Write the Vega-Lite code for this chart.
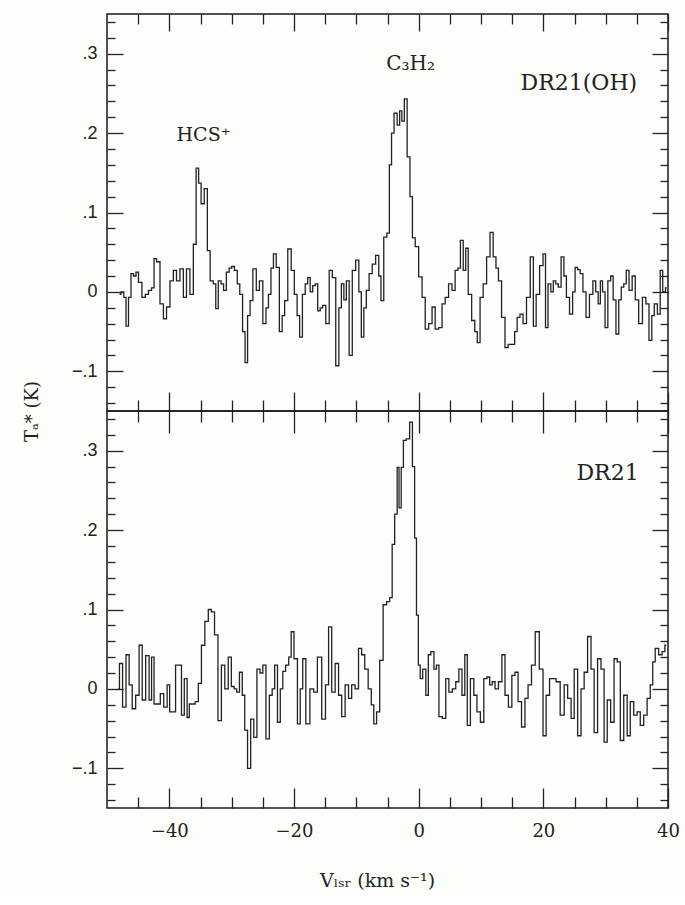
{
  "$schema": "https://vega.github.io/schema/vega-lite/v6.json",
  "background": "#fdfdfa",
  "padding": {"left": 22, "top": 12, "right": 10, "bottom": 5},
  "spacing": 0,
  "bounds": "flush",
  "config": {
    "view": {"stroke": "#1a1a1a", "strokeWidth": 1.5},
    "axis": {"grid": false, "domain": false, "labelColor": "#222", "tickColor": "#222", "tickWidth": 1.3, "titleColor": "#222", "labelFlush": false, "labelOverlap": false, "titleFontWeight": "normal"},
    "text": {"font": "DejaVu Serif", "color": "#222"}
  },
  "datasets": {
    "top": [
      {"v": -48.0, "t": -0.003}, {"v": -47.5, "t": 0.0}, {"v": -47.1, "t": -0.007}, {"v": -46.8, "t": -0.043}, {"v": -46.3, "t": -0.007},
      {"v": -46.0, "t": 0.023}, {"v": -45.5, "t": 0.02}, {"v": -45.2, "t": 0.025}, {"v": -44.7, "t": 0.012}, {"v": -44.1, "t": -0.007},
      {"v": -43.6, "t": -0.003}, {"v": -43.1, "t": 0.002}, {"v": -42.6, "t": 0.005}, {"v": -42.3, "t": 0.042}, {"v": -41.8, "t": 0.038},
      {"v": -41.2, "t": -0.015}, {"v": -40.7, "t": -0.034}, {"v": -40.2, "t": -0.019}, {"v": -39.6, "t": 0.014}, {"v": -39.1, "t": 0.027},
      {"v": -38.6, "t": 0.014}, {"v": -38.0, "t": 0.029}, {"v": -37.5, "t": -0.007}, {"v": -37.0, "t": 0.029}, {"v": -36.4, "t": -0.003},
      {"v": -35.9, "t": 0.06}, {"v": -35.5, "t": 0.156}, {"v": -35.1, "t": 0.137}, {"v": -34.7, "t": 0.111}, {"v": -34.1, "t": 0.13},
      {"v": -33.7, "t": 0.052}, {"v": -33.2, "t": 0.014}, {"v": -32.7, "t": 0.01}, {"v": -32.4, "t": -0.021}, {"v": -31.9, "t": 0.014},
      {"v": -31.5, "t": 0.01}, {"v": -31.1, "t": 0.002}, {"v": -30.6, "t": 0.025}, {"v": -30.2, "t": 0.03}, {"v": -29.8, "t": 0.032},
      {"v": -29.3, "t": 0.027}, {"v": -28.9, "t": 0.01}, {"v": -28.5, "t": -0.003}, {"v": -28.0, "t": -0.05}, {"v": -27.7, "t": -0.089},
      {"v": -27.2, "t": -0.03}, {"v": -26.9, "t": -0.011}, {"v": -26.3, "t": 0.029}, {"v": -25.8, "t": 0.002}, {"v": -25.3, "t": 0.014},
      {"v": -24.7, "t": -0.04}, {"v": -24.3, "t": -0.02}, {"v": -23.9, "t": -0.003}, {"v": -23.5, "t": 0.03}, {"v": -23.1, "t": 0.048},
      {"v": -22.6, "t": 0.031}, {"v": -22.1, "t": -0.05}, {"v": -21.7, "t": -0.03}, {"v": -21.3, "t": -0.011}, {"v": -20.7, "t": 0.054},
      {"v": -20.2, "t": 0.027}, {"v": -19.7, "t": -0.003}, {"v": -19.3, "t": -0.03}, {"v": -18.9, "t": -0.057}, {"v": -18.4, "t": -0.003},
      {"v": -18.0, "t": 0.01}, {"v": -17.6, "t": 0.018}, {"v": -17.2, "t": 0.0}, {"v": -16.8, "t": 0.008}, {"v": -16.4, "t": 0.01},
      {"v": -16.0, "t": -0.024}, {"v": -15.6, "t": -0.02}, {"v": -15.2, "t": -0.017}, {"v": -14.6, "t": -0.04}, {"v": -14.1, "t": 0.027},
      {"v": -13.6, "t": 0.018}, {"v": -13.0, "t": -0.093}, {"v": -12.6, "t": -0.02}, {"v": -12.2, "t": 0.01}, {"v": -11.8, "t": -0.01},
      {"v": -11.4, "t": 0.014}, {"v": -10.9, "t": -0.08}, {"v": -10.4, "t": 0.027}, {"v": -9.8, "t": 0.04}, {"v": -9.4, "t": 0.0},
      {"v": -9.0, "t": -0.057}, {"v": -8.6, "t": -0.02}, {"v": -8.2, "t": 0.002}, {"v": -7.7, "t": 0.023}, {"v": -7.2, "t": 0.035},
      {"v": -6.6, "t": 0.046}, {"v": -6.2, "t": 0.02}, {"v": -5.9, "t": -0.011}, {"v": -5.3, "t": 0.069}, {"v": -4.9, "t": 0.074},
      {"v": -4.5, "t": 0.16}, {"v": -4.2, "t": 0.2}, {"v": -3.7, "t": 0.225}, {"v": -3.2, "t": 0.21}, {"v": -2.9, "t": 0.228},
      {"v": -2.5, "t": 0.215}, {"v": -2.1, "t": 0.243}, {"v": -1.6, "t": 0.17}, {"v": -1.2, "t": 0.12}, {"v": -0.8, "t": 0.068},
      {"v": -0.3, "t": 0.057}, {"v": 0.3, "t": 0.019}, {"v": 0.8, "t": -0.007}, {"v": 1.3, "t": -0.047}, {"v": 1.9, "t": -0.04},
      {"v": 2.4, "t": -0.019}, {"v": 2.9, "t": -0.047}, {"v": 3.5, "t": -0.045}, {"v": 4.0, "t": -0.015}, {"v": 4.5, "t": -0.007},
      {"v": 5.1, "t": 0.01}, {"v": 5.6, "t": 0.002}, {"v": 6.1, "t": 0.027}, {"v": 6.5, "t": 0.03}, {"v": 6.9, "t": 0.065},
      {"v": 7.4, "t": 0.027}, {"v": 7.7, "t": 0.055}, {"v": 8.2, "t": -0.003}, {"v": 8.8, "t": -0.036}, {"v": 9.2, "t": -0.05},
      {"v": 9.6, "t": -0.064}, {"v": 10.1, "t": -0.007}, {"v": 10.6, "t": 0.01}, {"v": 11.2, "t": 0.044}, {"v": 11.7, "t": 0.075},
      {"v": 12.2, "t": 0.044}, {"v": 12.6, "t": 0.03}, {"v": 13.0, "t": 0.014}, {"v": 13.6, "t": -0.032}, {"v": 14.1, "t": -0.07},
      {"v": 14.6, "t": -0.066}, {"v": 15.2, "t": -0.066}, {"v": 15.6, "t": -0.05}, {"v": 16.0, "t": -0.032}, {"v": 16.5, "t": -0.028},
      {"v": 17.0, "t": -0.04}, {"v": 17.6, "t": -0.007}, {"v": 18.2, "t": 0.044}, {"v": 18.6, "t": -0.043}, {"v": 19.1, "t": -0.003},
      {"v": 19.7, "t": 0.033}, {"v": 20.2, "t": 0.048}, {"v": 20.5, "t": -0.045}, {"v": 21.0, "t": 0.01}, {"v": 21.4, "t": 0.0},
      {"v": 21.8, "t": 0.014}, {"v": 22.2, "t": 0.01}, {"v": 22.6, "t": 0.006}, {"v": 23.1, "t": 0.044}, {"v": 23.5, "t": 0.02},
      {"v": 23.9, "t": -0.007}, {"v": 24.5, "t": -0.028}, {"v": 24.9, "t": 0.0}, {"v": 25.3, "t": 0.031}, {"v": 25.7, "t": 0.028},
      {"v": 26.1, "t": 0.023}, {"v": 26.6, "t": 0.0}, {"v": 27.1, "t": -0.032}, {"v": 27.7, "t": -0.003}, {"v": 28.2, "t": 0.014},
      {"v": 28.6, "t": 0.0}, {"v": 29.0, "t": -0.015}, {"v": 29.3, "t": 0.014}, {"v": 29.7, "t": 0.0}, {"v": 30.1, "t": -0.045},
      {"v": 30.6, "t": 0.014}, {"v": 31.0, "t": 0.02}, {"v": 31.4, "t": -0.01}, {"v": 31.9, "t": -0.053}, {"v": 32.3, "t": -0.01},
      {"v": 32.7, "t": 0.006}, {"v": 33.1, "t": 0.01}, {"v": 33.5, "t": 0.027}, {"v": 34.0, "t": 0.002}, {"v": 34.5, "t": 0.02},
      {"v": 35.0, "t": -0.01}, {"v": 35.6, "t": -0.04}, {"v": 36.2, "t": -0.007}, {"v": 36.7, "t": -0.015}, {"v": 37.2, "t": -0.061},
      {"v": 37.6, "t": -0.03}, {"v": 38.0, "t": -0.015}, {"v": 38.6, "t": -0.028}, {"v": 38.9, "t": 0.027}, {"v": 39.4, "t": 0.0},
      {"v": 39.8, "t": 0.005}
    ],
    "bottom": [
      {"v": -48.2, "t": 0.0}, {"v": -47.8, "t": 0.032}, {"v": -47.2, "t": -0.023}, {"v": -46.7, "t": 0.043}, {"v": -46.2, "t": 0.005},
      {"v": -45.7, "t": -0.025}, {"v": -45.1, "t": -0.008}, {"v": -44.6, "t": 0.055}, {"v": -44.1, "t": -0.014}, {"v": -43.5, "t": 0.042},
      {"v": -43.0, "t": -0.014}, {"v": -42.7, "t": 0.04}, {"v": -42.2, "t": -0.019}, {"v": -41.7, "t": -0.019}, {"v": -41.2, "t": -0.006},
      {"v": -40.6, "t": -0.023}, {"v": -40.1, "t": 0.005}, {"v": -39.8, "t": -0.029}, {"v": -39.3, "t": -0.029}, {"v": -38.7, "t": 0.03},
      {"v": -38.2, "t": 0.03}, {"v": -37.9, "t": -0.033}, {"v": -37.3, "t": 0.013}, {"v": -37.0, "t": -0.036}, {"v": -36.6, "t": -0.019},
      {"v": -36.1, "t": -0.019}, {"v": -35.6, "t": -0.016}, {"v": -35.1, "t": 0.007}, {"v": -34.6, "t": 0.055}, {"v": -34.0, "t": 0.085},
      {"v": -33.5, "t": 0.1}, {"v": -33.0, "t": 0.097}, {"v": -32.5, "t": 0.068}, {"v": -31.9, "t": -0.04}, {"v": -31.4, "t": 0.03},
      {"v": -30.8, "t": 0.0}, {"v": -30.3, "t": 0.04}, {"v": -29.8, "t": 0.003}, {"v": -29.4, "t": 0.0}, {"v": -29.0, "t": -0.004},
      {"v": -28.5, "t": 0.021}, {"v": -28.1, "t": -0.008}, {"v": -27.7, "t": -0.052}, {"v": -27.2, "t": -0.1}, {"v": -26.7, "t": -0.038},
      {"v": -26.2, "t": -0.061}, {"v": -25.7, "t": 0.025}, {"v": -25.2, "t": 0.02}, {"v": -24.8, "t": 0.03}, {"v": -24.2, "t": -0.063},
      {"v": -23.7, "t": -0.008}, {"v": -23.3, "t": 0.0}, {"v": -22.9, "t": 0.03}, {"v": -22.4, "t": -0.042}, {"v": -22.0, "t": 0.0},
      {"v": -21.6, "t": 0.022}, {"v": -21.1, "t": 0.03}, {"v": -20.6, "t": 0.04}, {"v": -20.3, "t": 0.072}, {"v": -19.7, "t": 0.038},
      {"v": -19.2, "t": -0.044}, {"v": -18.8, "t": 0.0}, {"v": -18.4, "t": 0.038}, {"v": -17.8, "t": -0.044}, {"v": -17.1, "t": 0.0},
      {"v": -16.6, "t": -0.004}, {"v": -15.9, "t": 0.04}, {"v": -15.2, "t": -0.038}, {"v": -14.7, "t": 0.005}, {"v": -14.2, "t": 0.078},
      {"v": -13.7, "t": -0.004}, {"v": -13.1, "t": 0.032}, {"v": -12.6, "t": -0.008}, {"v": -12.1, "t": -0.035}, {"v": -11.5, "t": 0.005},
      {"v": -11.0, "t": -0.012}, {"v": -10.5, "t": 0.005}, {"v": -9.9, "t": 0.0}, {"v": -9.4, "t": 0.051}, {"v": -8.9, "t": 0.043},
      {"v": -8.4, "t": 0.025}, {"v": -7.8, "t": 0.0}, {"v": -7.4, "t": -0.02}, {"v": -7.0, "t": -0.044}, {"v": -6.5, "t": -0.029},
      {"v": -6.0, "t": 0.036}, {"v": -5.4, "t": 0.106}, {"v": -4.9, "t": 0.11}, {"v": -4.4, "t": 0.115}, {"v": -4.1, "t": 0.182},
      {"v": -3.6, "t": 0.22}, {"v": -3.3, "t": 0.279}, {"v": -3.0, "t": 0.228}, {"v": -2.6, "t": 0.279}, {"v": -2.3, "t": 0.313},
      {"v": -1.7, "t": 0.315}, {"v": -1.2, "t": 0.336}, {"v": -0.8, "t": 0.28}, {"v": -0.5, "t": 0.19}, {"v": -0.2, "t": 0.093},
      {"v": 0.1, "t": 0.03}, {"v": 0.4, "t": 0.013}, {"v": 0.9, "t": 0.025}, {"v": 1.4, "t": -0.008}, {"v": 1.7, "t": 0.043},
      {"v": 2.2, "t": 0.047}, {"v": 2.7, "t": 0.025}, {"v": 3.0, "t": 0.03}, {"v": 3.5, "t": -0.035}, {"v": 4.1, "t": -0.037},
      {"v": 4.6, "t": 0.013}, {"v": 5.1, "t": -0.004}, {"v": 5.7, "t": 0.0}, {"v": 6.2, "t": 0.009}, {"v": 6.7, "t": 0.025},
      {"v": 7.2, "t": -0.008}, {"v": 7.6, "t": 0.043}, {"v": 8.0, "t": -0.046}, {"v": 8.6, "t": 0.013}, {"v": 9.1, "t": -0.008},
      {"v": 9.6, "t": -0.029}, {"v": 10.2, "t": -0.042}, {"v": 10.7, "t": 0.013}, {"v": 11.2, "t": 0.015}, {"v": 11.6, "t": 0.005},
      {"v": 12.0, "t": 0.009}, {"v": 12.5, "t": 0.0}, {"v": 13.1, "t": 0.009}, {"v": 13.6, "t": 0.043}, {"v": 14.1, "t": -0.008},
      {"v": 14.7, "t": -0.023}, {"v": 15.2, "t": 0.017}, {"v": 15.7, "t": 0.021}, {"v": 16.2, "t": -0.016}, {"v": 16.8, "t": -0.048},
      {"v": 17.3, "t": -0.012}, {"v": 17.8, "t": 0.005}, {"v": 18.4, "t": 0.03}, {"v": 19.0, "t": 0.072}, {"v": 19.7, "t": 0.025},
      {"v": 20.2, "t": -0.059}, {"v": 20.7, "t": -0.008}, {"v": 21.3, "t": 0.013}, {"v": 21.8, "t": 0.013}, {"v": 22.3, "t": 0.009},
      {"v": 23.1, "t": -0.033}, {"v": 23.6, "t": 0.005}, {"v": 24.2, "t": -0.012}, {"v": 24.7, "t": -0.037}, {"v": 25.2, "t": 0.025},
      {"v": 25.8, "t": -0.059}, {"v": 26.3, "t": 0.0}, {"v": 26.8, "t": 0.021}, {"v": 27.4, "t": 0.066}, {"v": 27.9, "t": 0.025},
      {"v": 28.4, "t": -0.055}, {"v": 29.0, "t": 0.038}, {"v": 29.5, "t": 0.025}, {"v": 30.0, "t": -0.067}, {"v": 30.5, "t": -0.014},
      {"v": 31.1, "t": -0.042}, {"v": 31.6, "t": 0.038}, {"v": 32.1, "t": 0.034}, {"v": 32.6, "t": -0.065}, {"v": 33.2, "t": -0.008},
      {"v": 33.7, "t": -0.059}, {"v": 34.2, "t": -0.016}, {"v": 34.8, "t": -0.033}, {"v": 35.3, "t": -0.029}, {"v": 35.8, "t": -0.046},
      {"v": 36.4, "t": -0.033}, {"v": 36.9, "t": -0.012}, {"v": 37.4, "t": 0.005}, {"v": 37.7, "t": 0.034}, {"v": 38.2, "t": 0.051},
      {"v": 38.8, "t": 0.043}, {"v": 39.3, "t": 0.047}, {"v": 39.7, "t": 0.055}
    ],
    "topLabels": [
      {"v": -34.5, "t": 0.19, "label": "HCS⁺", "size": 19},
      {"v": -1.3, "t": 0.28, "label": "C₃H₂", "size": 20},
      {"v": 25.7, "t": 0.254, "label": "DR21(OH)", "size": 22}
    ],
    "bottomLabels": [
      {"v": 30.3, "t": 0.263, "label": "DR21", "size": 22}
    ]
  },
  "vconcat": [
    {
      "width": 561, "height": 397,
      "resolve": {"axis": {"x": "independent", "y": "independent"}},
      "layer": [
        {
          "data": {"name": "top"},
          "mark": {"type": "line", "interpolate": "step", "color": "#222", "strokeWidth": 1.3},
          "encoding": {
            "x": {"field": "v", "type": "quantitative", "scale": {"domain": [-50, 40], "nice": false, "zero": false},
              "axis": {"orient": "bottom", "values": [-40, -20, 0, 20, 40], "ticks": false, "labels": false, "title": null}},
            "y": {"field": "t", "type": "quantitative", "scale": {"domain": [-0.15, 0.35], "nice": false, "zero": false},
              "axis": {"orient": "left", "values": [-0.1, 0, 0.1, 0.2, 0.3], "ticks": false, "labelFont": "Liberation Sans", "labelFontSize": 18, "labelPadding": 10,
                "labelExpr": "datum.value == 0 ? '0' : replace(format(datum.value, '.1f'), '0.', '.')",
                "title": "Tₐ* (K)", "titleFont": "DejaVu Serif", "titleFontSize": 18, "titleX": -66, "titleY": 397, "titleAngle": -90, "titleAlign": "center", "titleBaseline": "bottom"}}
          }
        },
        {
          "data": {"name": "top"},
          "mark": {"type": "line", "strokeOpacity": 0},
          "encoding": {
            "x": {"field": "v", "type": "quantitative", "scale": {"domain": [-50, 40], "nice": false, "zero": false},
              "axis": {"orient": "bottom", "values": [-40, -20, 0, 20, 40], "tickSize": -19, "labels": false, "title": null}},
            "y": {"field": "t", "type": "quantitative", "scale": {"domain": [-0.15, 0.35], "nice": false, "zero": false},
              "axis": {"orient": "left", "values": [-0.1, 0, 0.1, 0.2, 0.3], "tickSize": -16, "labels": false, "title": null}}
          }
        },
        {
          "data": {"name": "top"},
          "mark": {"type": "line", "strokeOpacity": 0},
          "encoding": {
            "x": {"field": "v", "type": "quantitative", "scale": {"domain": [-50, 40], "nice": false, "zero": false},
              "axis": {"orient": "bottom", "values": [-45, -35, -30, -25, -15, -10, -5, 5, 10, 15, 25, 30, 35], "tickSize": -11, "labels": false, "title": null}},
            "y": {"field": "t", "type": "quantitative", "scale": {"domain": [-0.15, 0.35], "nice": false, "zero": false},
              "axis": {"orient": "left", "values": [-0.14, -0.12, -0.08, -0.06, -0.04, -0.02, 0.02, 0.04, 0.06, 0.08, 0.12, 0.14, 0.16, 0.18, 0.22, 0.24, 0.26, 0.28, 0.32, 0.34], "tickSize": -8, "labels": false, "title": null}}
          }
        },
        {
          "data": {"name": "top"},
          "mark": {"type": "line", "strokeOpacity": 0},
          "encoding": {
            "x": {"field": "v", "type": "quantitative", "scale": {"domain": [-50, 40], "nice": false, "zero": false},
              "axis": {"orient": "top", "values": [-40, -20, 0, 20, 40], "tickSize": -17, "labels": false, "title": null}},
            "y": {"field": "t", "type": "quantitative", "scale": {"domain": [-0.15, 0.35], "nice": false, "zero": false},
              "axis": {"orient": "right", "values": [-0.1, 0, 0.1, 0.2, 0.3], "tickSize": -16, "labels": false, "title": null}}
          }
        },
        {
          "data": {"name": "top"},
          "mark": {"type": "line", "strokeOpacity": 0},
          "encoding": {
            "x": {"field": "v", "type": "quantitative", "scale": {"domain": [-50, 40], "nice": false, "zero": false},
              "axis": {"orient": "top", "values": [-45, -35, -30, -25, -15, -10, -5, 5, 10, 15, 25, 30, 35], "tickSize": -10, "labels": false, "title": null}},
            "y": {"field": "t", "type": "quantitative", "scale": {"domain": [-0.15, 0.35], "nice": false, "zero": false},
              "axis": {"orient": "right", "values": [-0.14, -0.12, -0.08, -0.06, -0.04, -0.02, 0.02, 0.04, 0.06, 0.08, 0.12, 0.14, 0.16, 0.18, 0.22, 0.24, 0.26, 0.28, 0.32, 0.34], "tickSize": -8, "labels": false, "title": null}}
          }
        },
        {
          "data": {"name": "topLabels"},
          "mark": {"type": "text", "align": "center", "baseline": "alphabetic"},
          "encoding": {
            "x": {"field": "v", "type": "quantitative", "scale": {"domain": [-50, 40], "nice": false, "zero": false}, "axis": null},
            "y": {"field": "t", "type": "quantitative", "scale": {"domain": [-0.15, 0.35], "nice": false, "zero": false}, "axis": null},
            "text": {"field": "label"},
            "size": {"field": "size", "type": "quantitative", "scale": null}
          }
        }
      ]
    },
    {
      "width": 561, "height": 397,
      "resolve": {"axis": {"x": "independent", "y": "independent"}},
      "layer": [
        {
          "data": {"name": "bottom"},
          "mark": {"type": "line", "interpolate": "step", "color": "#222", "strokeWidth": 1.3},
          "encoding": {
            "x": {"field": "v", "type": "quantitative", "scale": {"domain": [-50, 40], "nice": false, "zero": false},
              "axis": {"orient": "bottom", "values": [-40, -20, 0, 20, 40], "ticks": false, "labelFont": "DejaVu Serif", "labelFontSize": 18, "labelPadding": 14,
                "title": "Vₗₛᵣ (km s⁻¹)", "titleFont": "DejaVu Serif", "titleFontSize": 19, "titleX": 270, "titleY": 63}},
            "y": {"field": "t", "type": "quantitative", "scale": {"domain": [-0.15, 0.35], "nice": false, "zero": false},
              "axis": {"orient": "left", "values": [-0.1, 0, 0.1, 0.2, 0.3], "ticks": false, "labelFont": "Liberation Sans", "labelFontSize": 18, "labelPadding": 10,
                "labelExpr": "datum.value == 0 ? '0' : replace(format(datum.value, '.1f'), '0.', '.')", "title": null}}
          }
        },
        {
          "data": {"name": "bottom"},
          "mark": {"type": "line", "strokeOpacity": 0},
          "encoding": {
            "x": {"field": "v", "type": "quantitative", "scale": {"domain": [-50, 40], "nice": false, "zero": false},
              "axis": {"orient": "bottom", "values": [-40, -20, 0, 20, 40], "tickSize": -20, "labels": false, "title": null}},
            "y": {"field": "t", "type": "quantitative", "scale": {"domain": [-0.15, 0.35], "nice": false, "zero": false},
              "axis": {"orient": "left", "values": [-0.1, 0, 0.1, 0.2, 0.3], "tickSize": -16, "labels": false, "title": null}}
          }
        },
        {
          "data": {"name": "bottom"},
          "mark": {"type": "line", "strokeOpacity": 0},
          "encoding": {
            "x": {"field": "v", "type": "quantitative", "scale": {"domain": [-50, 40], "nice": false, "zero": false},
              "axis": {"orient": "bottom", "values": [-45, -35, -30, -25, -15, -10, -5, 5, 10, 15, 25, 30, 35], "tickSize": -11, "labels": false, "title": null}},
            "y": {"field": "t", "type": "quantitative", "scale": {"domain": [-0.15, 0.35], "nice": false, "zero": false},
              "axis": {"orient": "left", "values": [-0.14, -0.12, -0.08, -0.06, -0.04, -0.02, 0.02, 0.04, 0.06, 0.08, 0.12, 0.14, 0.16, 0.18, 0.22, 0.24, 0.26, 0.28, 0.32, 0.34], "tickSize": -8, "labels": false, "title": null}}
          }
        },
        {
          "data": {"name": "bottom"},
          "mark": {"type": "line", "strokeOpacity": 0},
          "encoding": {
            "x": {"field": "v", "type": "quantitative", "scale": {"domain": [-50, 40], "nice": false, "zero": false},
              "axis": {"orient": "top", "values": [-40, -20, 0, 20, 40], "tickSize": -22, "labels": false, "title": null}},
            "y": {"field": "t", "type": "quantitative", "scale": {"domain": [-0.15, 0.35], "nice": false, "zero": false},
              "axis": {"orient": "right", "values": [-0.1, 0, 0.1, 0.2, 0.3], "tickSize": -16, "labels": false, "title": null}}
          }
        },
        {
          "data": {"name": "bottom"},
          "mark": {"type": "line", "strokeOpacity": 0},
          "encoding": {
            "x": {"field": "v", "type": "quantitative", "scale": {"domain": [-50, 40], "nice": false, "zero": false},
              "axis": {"orient": "top", "values": [-45, -35, -30, -25, -15, -10, -5, 5, 10, 15, 25, 30, 35], "tickSize": -11, "labels": false, "title": null}},
            "y": {"field": "t", "type": "quantitative", "scale": {"domain": [-0.15, 0.35], "nice": false, "zero": false},
              "axis": {"orient": "right", "values": [-0.14, -0.12, -0.08, -0.06, -0.04, -0.02, 0.02, 0.04, 0.06, 0.08, 0.12, 0.14, 0.16, 0.18, 0.22, 0.24, 0.26, 0.28, 0.32, 0.34], "tickSize": -8, "labels": false, "title": null}}
          }
        },
        {
          "data": {"name": "bottomLabels"},
          "mark": {"type": "text", "align": "center", "baseline": "alphabetic"},
          "encoding": {
            "x": {"field": "v", "type": "quantitative", "scale": {"domain": [-50, 40], "nice": false, "zero": false}, "axis": null},
            "y": {"field": "t", "type": "quantitative", "scale": {"domain": [-0.15, 0.35], "nice": false, "zero": false}, "axis": null},
            "text": {"field": "label"},
            "size": {"field": "size", "type": "quantitative", "scale": null}
          }
        }
      ]
    }
  ]
}
